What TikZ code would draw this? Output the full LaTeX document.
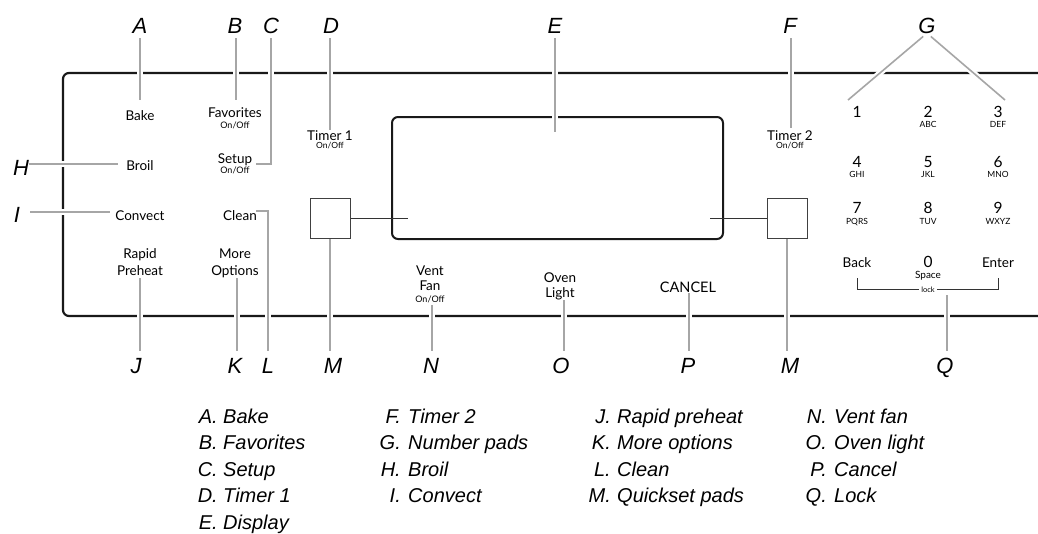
\documentclass[tikz,border=0pt]{standalone}
\usepackage{fontspec}
\setmainfont{Liberation Sans}
\newfontfamily\pf{Lato}
\usetikzlibrary{calc}
\pgfdeclarelayer{bg}
\pgfsetlayers{bg,main}
\tikzset{
 panel/.style={draw=black!90, line width=2.2pt, rounded corners=6pt},
 leader/.style={draw=black!35, line width=1.6pt, preaction={draw=white, line width=6pt}},
 leadtop/.style={leader, shorten <=5pt},
 leadbot/.style={leader, shorten >=6pt},
 letter/.style={font=\fontsize{22}{24}\selectfont\itshape, inner sep=0pt, text height=16pt, text depth=0pt, anchor=base},
 legl/.style={font=\fontsize{20}{22}\selectfont\itshape, inner sep=0pt, anchor=base east},
 legt/.style={font=\fontsize{20}{22}\selectfont\itshape, inner sep=0pt, anchor=base west},
 lab/.style={font=\pf\fontsize{13.5}{15}\selectfont, inner sep=0pt, anchor=base},
 onoff/.style={font=\pf\fontsize{9}{10}\selectfont, inner sep=0pt, anchor=base},
 num/.style={font=\pf\fontsize{15.5}{16}\selectfont, inner sep=0pt, anchor=base},
 sm/.style={font=\pf\fontsize{8.5}{9}\selectfont, inner sep=0pt, anchor=base},
 qbox/.style={draw=black!75, line width=0.9pt, minimum size=40pt, inner sep=0pt},
 thinl/.style={draw=black!80, line width=0.9pt},
 dispbox/.style={draw=black!90, line width=2pt, rounded corners=6pt, minimum width=331pt, minimum height=122pt, inner sep=0pt},
}
\begin{document}
\begin{tikzpicture}[x=1pt,y=-1pt]
\useasboundingbox (0,0) rectangle (1038,533);

% ---- callout letters ----
\node[letter] (lA) at (140,33) {A};
\node[letter] (lB) at (235,33) {B};
\node[letter] (lC) at (271,33) {C};
\node[letter] (lD) at (331,33) {D};
\node[letter] (lE) at (555,33) {E};
\node[letter] (lF) at (790,33) {F};
\node[letter] (lG) at (927,33) {G};
\node[letter] (lH) at (21,175) {H};
\node[letter] (lI) at (17,222) {I};
\node[letter] (lJ) at (136,373) {J};
\node[letter] (lK) at (235,373) {K};
\node[letter] (lL) at (268,373) {L};
\node[letter] (lM1) at (333,373) {M};
\node[letter] (lN) at (431,373) {N};
\node[letter] (lO) at (561,373) {O};
\node[letter] (lP) at (688,373) {P};
\node[letter] (lM2) at (790,373) {M};
\node[letter] (lQ) at (945,373) {Q};

% ---- panel labels ----
\node[lab] (tBake) at (140,120) {Bake};
\node[lab] (tFav) at (235,117) {Favorites};
\node[onoff] (tFavO) at (235,128) {On/Off};
\node[lab] (tSetup) at (235,163) {Setup};
\node[onoff] (tSetupO) at (235,173) {On/Off};
\node[lab] (tT1) at (330,140) {Timer 1};
\node[sm] (tT1O) at (330,148) {On/Off};
\node[lab] (tBroil) at (140,170) {Broil};
\node[lab] (tConv) at (140,220) {Convect};
\node[lab] (tClean) at (240,220) {Clean};
\node[lab] (tRapid) at (140,258) {Rapid};
\node[lab] (tPre) at (140,275) {Preheat};
\node[lab] (tMore) at (235,258) {More};
\node[lab] (tOpt) at (235,275) {Options};
\node[lab] (tVent) at (430,275) {Vent};
\node[lab] (tFan) at (430,290) {Fan};
\node[onoff] (tFanO) at (430,302) {On/Off};
\node[lab] (tOven) at (560,282) {Oven};
\node[lab] (tLight) at (560,297) {Light};
\node[lab, font=\pf\fontsize{14.5}{15}\selectfont] (tCancel) at (688,292) {CANCEL};
\node[lab] (tT2) at (790,140) {Timer 2};
\node[sm] (tT2O) at (790,148) {On/Off};

% ---- number pads ----
\node[num] (n1) at (857,117) {1};
\node[num] (n2) at (928,117) {2};
\node[sm] (s2) at (928,127) {ABC};
\node[num] (n3) at (998,117) {3};
\node[sm] (s3) at (998,127) {DEF};
\node[num] (n4) at (857,167) {4};
\node[sm] (s4) at (857,177) {GHI};
\node[num] (n5) at (928,167) {5};
\node[sm] (s5) at (928,177) {JKL};
\node[num] (n6) at (998,167) {6};
\node[sm] (s6) at (998,177) {MNO};
\node[num] (n7) at (857,213) {7};
\node[sm] (s7) at (857,224) {PQRS};
\node[num] (n8) at (928,213) {8};
\node[sm] (s8) at (928,224) {TUV};
\node[num] (n9) at (998,213) {9};
\node[sm] (s9) at (998,224) {WXYZ};
\node[lab] (tBack) at (857,267) {Back};
\node[num] (n0) at (928,267) {0};
\node[sm, font=\pf\fontsize{10}{11}\selectfont] (s0) at (928,278) {Space};
\node[lab] (tEnter) at (998,267) {Enter};
\node[sm, font=\pf\fontsize{7.5}{8}\selectfont, inner sep=2.5pt, fill=white] (tLock) at (928,292) {lock};

% ---- quickset pads ----
\node[qbox] (qL) at (330,218) {};
\node[qbox] (qR) at (787,218) {};

% ---- legend ----
\foreach \k/\t/\y in {A/Bake/423, B/Favorites/449.5, C/Setup/476, D/Timer 1/502.5, E/Display/529}{
  \node[legl] (gl\k) at (218,\y) {\k.};
  \node[legt] (gt\k) at (223,\y) {\t};
}
\foreach \k/\t/\y in {F/Timer 2/423, G/Number pads/449.5, H/Broil/476, I/Convect/502.5}{
  \node[legl] (gl\k) at (401,\y) {\k.};
  \node[legt] (gt\k) at (408,\y) {\t};
}
\foreach \k/\t/\y in {J/Rapid preheat/423, K/More options/449.5, L/Clean/476, M/Quickset pads/502.5}{
  \node[legl] (gl\k) at (611,\y) {\k.};
  \node[legt] (gt\k) at (617,\y) {\t};
}
\foreach \k/\t/\y in {N/Vent fan/423, O/Oven light/449.5, P/Cancel/476, Q/Lock/502.5}{
  \node[legl] (gl\k) at (827,\y) {\k.};
  \node[legt] (gt\k) at (834,\y) {\t};
}

% ---- leader ends ----
\coordinate (eA) at (140,100);
\coordinate (eB) at (236,100);
\coordinate (eC) at (256,164);
\coordinate (eD) at (330,130);
\coordinate (eE) at (555,132);
\coordinate (eF) at (791,128);
\coordinate (g1) at (848,100);
\coordinate (g3) at (1005,100);
\coordinate (eH) at (118,164);
\coordinate (eI) at (110,212);
\coordinate (eJ) at (140,278);
\coordinate (eK) at (237,278);
\coordinate (eL) at (256,211);
\coordinate (eN) at (432,305);
\coordinate (eO) at (564,300);
\coordinate (eP) at (689,293);
\coordinate (eQ) at (947,295);
\coordinate (dL) at (408,218);
\coordinate (dR) at (710,218);
\coordinate (bk) at (857,278);
\coordinate (en) at (998,278);

\begin{pgfonlayer}{bg}
  \draw[panel] (1038,73) -- (63,73) -- (63,316) -- (1038,316);
  \node[dispbox] (disp) at (557.5,178) {};
  \draw[leadtop] (lA.south -| eA) -- (eA);
  \draw[leadtop] (lB.south -| eB) -- (eB);
  \draw[leadtop] (lC.south) |- (eC);
  \draw[leadtop] (lD.south -| eD) -- (eD);
  \draw[leadtop] (lE.south -| eE) -- (eE);
  \draw[leadtop] (lF.south -| eF) -- (eF);
  \draw[leadtop] (lG.south) -- (g1);
  \draw[leadtop] (lG.south) -- (g3);
  \draw[leader] (lH.east |- eH) -- (eH);
  \draw[leader, shorten <=10pt] (lI.east |- eI) -- (eI);
  \draw[leadbot] (eJ) -- (eJ |- lJ.north);
  \draw[leadbot] (eK) -- (eK |- lK.north);
  \draw[leadbot] (eL) -| (lL.north);
  \draw[leadbot] (qL.south) -- (qL.south |- lM1.north);
  \draw[leadbot] (eN) -- (eN |- lN.north);
  \draw[leadbot] (eO) -- (eO |- lO.north);
  \draw[leadbot] (eP) -- (eP |- lP.north);
  \draw[leadbot] (qR.south) -- (qR.south |- lM2.north);
  \draw[leadbot] (eQ) -- (eQ |- lQ.north);
  \draw[thinl] (qL.east) -- (dL);
  \draw[thinl] (dR) -- (qR.west);
  \draw[thinl] (bk) |- (tLock.west);
  \draw[thinl] (en) |- (tLock.east);
\end{pgfonlayer}
\end{tikzpicture}
\end{document}
